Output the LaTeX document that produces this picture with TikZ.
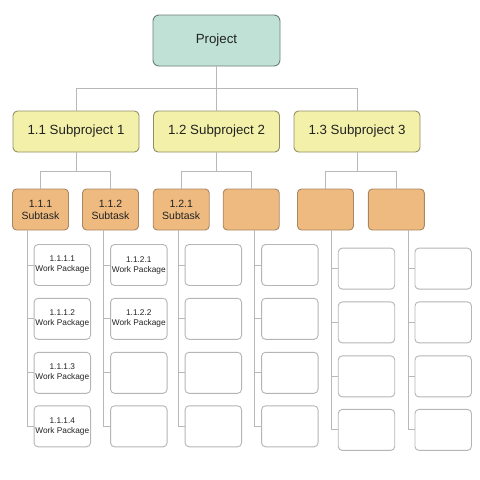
\documentclass[tikz,border=0pt]{standalone}
\usepackage{fontspec}
\setmainfont{Liberation Sans}
\usetikzlibrary{positioning}

\definecolor{projfill}{HTML}{C0E2D6}
\definecolor{projline}{HTML}{6E7E78}
\definecolor{subfill}{HTML}{F3F1A9}
\definecolor{subline}{HTML}{908D68}
\definecolor{taskfill}{HTML}{EEBA7F}
\definecolor{taskline}{HTML}{A88763}
\definecolor{wpline}{HTML}{B5B5B5}
\definecolor{linkgray}{HTML}{B8B8B8}
\definecolor{txt}{HTML}{222222}

\begin{document}
\begin{tikzpicture}[
    x=1pt, y=-1pt,
    % Styles for the levels of the breakdown
    proj/.style={draw=projline, fill=projfill, rounded corners=6pt, line width=0.9pt,
        minimum width=127pt, minimum height=51pt, text=txt, font=\fontsize{13.3}{16}\selectfont},
    subproj/.style={draw=subline, fill=subfill, rounded corners=4.5pt, line width=0.9pt,
        minimum width=126pt, minimum height=41pt, text=txt, font=\fontsize{13.3}{16}\selectfont},
    task/.style={draw=taskline, fill=taskfill, rounded corners=4pt, line width=0.9pt,
        minimum width=56pt, minimum height=41pt, inner sep=1pt, align=center,
        text=txt, font=\fontsize{10.5}{12}\selectfont},
    wp/.style={draw=wpline, fill=white, rounded corners=4pt, line width=0.9pt,
        minimum width=56.5pt, minimum height=41pt, inner sep=0.5pt, align=center,
        text=txt, font=\fontsize{8.3}{10}\selectfont},
    link/.style={draw=linkgray, line width=0.9pt}
]
    \useasboundingbox (0,0) rectangle (480,480);

    % --- NODES ---
    \node [proj] (proj) at (216.5,40.5) {Project};

    \node [subproj] (sub1) at (76,131.5) {1.1 Subproject 1};
    \node [subproj] (sub2) at (216.5,131.5) {1.2 Subproject 2};
    \node [subproj] (sub3) at (357,131.5) {1.3 Subproject 3};

    \node [task] (st1) at (40.5,209.5) {1.1.1\\Subtask};
    \node [task] (st2) at (110.5,209.5) {1.1.2\\Subtask};
    \node [task] (st3) at (181.2,209.5) {1.2.1\\Subtask};
    \node [task] (st4) at (251.2,209.5) {};
    \node [task] (st5) at (325.5,209.5) {};
    \node [task] (st6) at (396.3,209.5) {};

    % Work packages with labels
    \node [wp] (wp11) at (62.3,265) {1.1.1.1\\Work Package};
    \node [wp] (wp12) at (62.3,318.8) {1.1.1.2\\Work Package};
    \node [wp] (wp13) at (62.3,372.8) {1.1.1.3\\Work Package};
    \node [wp] (wp14) at (62.3,426.3) {1.1.1.4\\Work Package};
    \node [wp] (wp21) at (138.8,265) {1.1.2.1\\Work Package};
    \node [wp] (wp22) at (138.8,318.8) {1.1.2.2\\Work Package};
    \node [wp] (wp23) at (138.8,372.8) {};
    \node [wp] (wp24) at (138.8,426.3) {};

    % Empty work packages
    \foreach \c/\x/\dy in {3/213.3/0, 4/289.8/0, 5/366.5/3.6, 6/443.2/3.6}
        \foreach \r/\y in {1/265, 2/318.8, 3/372.8, 4/426.3}
            \node [wp] (wp\c\r) at (\x,\y+\dy) {};

    % --- CONNECTIONS ---
    % Project to subprojects
    \draw [link] (proj.south) -- ++(0,22) coordinate (hub0);
    \draw [link] (sub1.north) |- (hub0) -| (sub3.north);
    \draw [link] (hub0) -- (sub2.north);

    % Subprojects to subtasks
    \draw [link] (sub1.south) -- ++(0,18.5) coordinate (hub1);
    \draw [link] (st1.north) |- (hub1) -| (st2.north);
    \draw [link] (sub2.south) -- ++(0,18.5) coordinate (hub2);
    \draw [link] (st3.north) |- (hub2) -| (st4.north);
    \draw [link] (sub3.south) -- ++(0,18.5) coordinate (hub3);
    \draw [link] (st5.north) |- (hub3) -| (st6.north);

    % Subtasks to work packages
    \foreach \c in {1,...,6} {
        \draw [link] (wp\c4.west) -- ++(-6.5,0) coordinate (b\c) -- (b\c |- st\c.south);
        \foreach \r in {1,2,3}
            \draw [link] (wp\c\r.west) -- ++(-6.5,0);
    }

\end{tikzpicture}
\end{document}
